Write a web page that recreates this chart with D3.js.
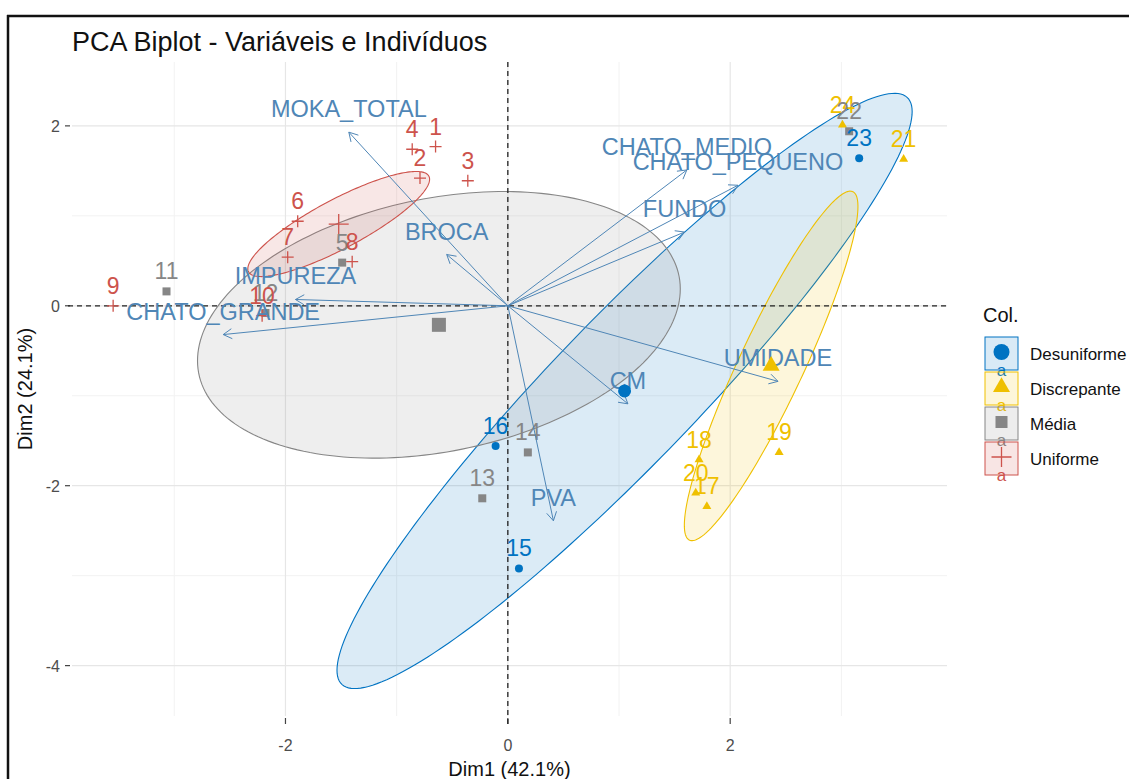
<!DOCTYPE html>
<html><head><meta charset="utf-8">
<script src="https://cdn.jsdelivr.net/npm/d3@7"></script>
<style>body{margin:0;background:#fff} text{font-family:Arial,"Liberation Sans",sans-serif}</style>
</head><body><svg id="c" width="1129" height="779"></svg>
<script>
// ---- data ----
const indLabels = ["1","2","3","4","5","6","7","8","9","10","11","12","13","14","15","16","17","18","19","20","21","22","23","24"];
const indX = [-0.65,-0.79,-0.36,-0.86,-1.49,-1.89,-1.98,-1.40,-3.55,-2.21,-3.07,-2.18,-0.23,0.18,0.10,-0.11,1.79,1.72,2.44,1.69,3.56,3.07,3.16,3.01];
const indY = [1.77,1.42,1.39,1.74,0.48,0.94,0.54,0.49,0.00,-0.11,0.16,-0.08,-2.14,-1.63,-2.92,-1.56,-2.23,-1.71,-1.63,-2.08,1.63,1.94,1.64,2.01];
const indGroup = ["Uniforme","Uniforme","Uniforme","Uniforme","Média","Uniforme","Uniforme","Uniforme","Uniforme","Uniforme","Média","Média","Média","Média","Desuniforme","Desuniforme","Discrepante","Discrepante","Discrepante","Discrepante","Discrepante","Média","Desuniforme","Discrepante"];
const groups = ["Desuniforme","Discrepante","Média","Uniforme"];
const groupColors = ["#0073C2","#EFC000","#868686","#CD534C"];
const groupShapes = ["circle","triangle","square","plus"];
const varNames = ["MOKA_TOTAL","CHATO_MEDIO","CHATO_PEQUENO","FUNDO","BROCA","IMPUREZA","CHATO_GRANDE","CM","UMIDADE","PVA"];
const varX = [-1.43,1.61,2.07,1.59,-0.55,-1.91,-2.56,1.08,2.43,0.41];
const varY = [1.93,1.51,1.34,0.82,0.57,0.07,-0.32,-1.09,-0.84,-2.39];
const xMajor = [-2,0,2], xMinor = [-3,-1,1,3];
const yMajor = [-4,-2,0,2], yMinor = [-3,-1,1];
const titleText = "PCA Biplot - Variáveis e Indivíduos";
const xTitle = "Dim1 (42.1%)", yTitle = "Dim2 (24.1%)", legendTitle = "Col.";

// ---- setup ----
const svg = d3.select("#c");
const L = 72, R = 947, T = 62, B = 716;
const x = d3.scaleLinear().domain([-3.92, 3.95]).range([L, R]);
const y = d3.scaleLinear().domain([-4.56, 2.71]).range([B, T]);
const color = d3.scaleOrdinal().domain(groups).range(groupColors);
const shape = d3.scaleOrdinal().domain(groups).range(groupShapes);
const varColor = "#4f86b6";

const inds = indLabels.map((l, i) => ({label: l, x: indX[i], y: indY[i], g: indGroup[i]}));

// frame
svg.append("line").attr("x1", 7).attr("x2", 1129).attr("y1", 16).attr("y2", 16).attr("stroke", "#111").attr("stroke-width", 2.5);
svg.append("line").attr("x1", 8).attr("x2", 8).attr("y1", 15).attr("y2", 779).attr("stroke", "#111").attr("stroke-width", 2.5);

// grid
const grid = svg.append("g");
xMinor.forEach(v => grid.append("line").attr("x1", x(v)).attr("x2", x(v)).attr("y1", T).attr("y2", B).attr("stroke", "#f2f2f2").attr("stroke-width", 1));
yMinor.forEach(v => grid.append("line").attr("y1", y(v)).attr("y2", y(v)).attr("x1", L).attr("x2", R).attr("stroke", "#f2f2f2").attr("stroke-width", 1));
xMajor.forEach(v => grid.append("line").attr("x1", x(v)).attr("x2", x(v)).attr("y1", T).attr("y2", B).attr("stroke", "#e6e6e6").attr("stroke-width", 1.2));
yMajor.forEach(v => grid.append("line").attr("y1", y(v)).attr("y2", y(v)).attr("x1", L).attr("x2", R).attr("stroke", "#e6e6e6").attr("stroke-width", 1.2));

// ticks + labels
xMajor.forEach(v => {
  svg.append("line").attr("x1", x(v)).attr("x2", x(v)).attr("y1", B + 2).attr("y2", B + 8).attr("stroke", "#444").attr("stroke-width", 1.2);
  svg.append("text").attr("x", x(v)).attr("y", 751).attr("text-anchor", "middle").attr("font-size", 16).attr("fill", "#4d4d4d").text(v);
});
yMajor.forEach(v => {
  svg.append("line").attr("x1", L - 7).attr("x2", L - 2).attr("y1", y(v)).attr("y2", y(v)).attr("stroke", "#444").attr("stroke-width", 1.2);
  svg.append("text").attr("x", L - 12).attr("y", y(v) + 6).attr("text-anchor", "end").attr("font-size", 16).attr("fill", "#4d4d4d").text(v);
});

// ellipses (95% confidence ellipses around group means)
const tq = Math.sqrt(-2 * Math.log(0.05));
function ellipse(pts) {
  const n = pts.length;
  const mx = d3.mean(pts, d => d.x), my = d3.mean(pts, d => d.y);
  let sxx = 0, syy = 0, sxy = 0;
  pts.forEach(d => { sxx += (d.x - mx) ** 2; syy += (d.y - my) ** 2; sxy += (d.x - mx) * (d.y - my); });
  sxx /= (n - 1) * n; syy /= (n - 1) * n; sxy /= (n - 1) * n;
  const tr = sxx + syy, det = sxx * syy - sxy * sxy;
  const disc = Math.sqrt(Math.max(tr * tr / 4 - det, 0));
  const l1 = tr / 2 + disc, l2 = tr / 2 - disc;
  let v1 = Math.abs(sxy) > 1e-12 ? [l1 - syy, sxy] : (sxx >= syy ? [1, 0] : [0, 1]);
  const nv = Math.hypot(v1[0], v1[1]); v1 = [v1[0] / nv, v1[1] / nv];
  const v2 = [-v1[1], v1[0]];
  const a = tq * Math.sqrt(l1), b = tq * Math.sqrt(Math.max(l2, 0));
  return d3.range(0, 200).map(k => {
    const th = 2 * Math.PI * k / 200;
    return [mx + a * Math.cos(th) * v1[0] + b * Math.sin(th) * v2[0], my + a * Math.cos(th) * v1[1] + b * Math.sin(th) * v2[1]];
  });
}
const line = d3.line().x(d => x(d[0])).y(d => y(d[1])).curve(d3.curveLinearClosed);
const eg = svg.append("g");
groups.forEach(g => {
  const pts = inds.filter(d => d.g === g);
  eg.append("path").attr("d", line(ellipse(pts))).attr("fill", color(g)).attr("fill-opacity", 0.14)
    .attr("stroke", color(g)).attr("stroke-width", 1.1);
});

// reference dashed lines
svg.append("line").attr("x1", L - 4).attr("x2", R).attr("y1", y(0)).attr("y2", y(0)).attr("stroke", "#222").attr("stroke-width", 1.3).attr("stroke-dasharray", "5,4");
svg.append("line").attr("x1", x(0)).attr("x2", x(0)).attr("y1", T).attr("y2", B + 8).attr("stroke", "#222").attr("stroke-width", 1.3).attr("stroke-dasharray", "5,4");

// symbols
function drawShape(sel, sh, cx, cy, s, col) {
  if (sh === "circle") sel.append("circle").attr("cx", cx).attr("cy", cy).attr("r", s / 2).attr("fill", col);
  else if (sh === "square") sel.append("rect").attr("x", cx - s / 2).attr("y", cy - s / 2).attr("width", s).attr("height", s).attr("fill", col);
  else if (sh === "triangle") {
    const h = s * Math.sqrt(3) / 2;
    sel.append("path").attr("d", `M${cx},${cy - h * 2 / 3}L${cx + s / 2},${cy + h / 3}L${cx - s / 2},${cy + h / 3}Z`).attr("fill", col);
  } else {
    sel.append("path").attr("d", `M${cx - s / 2},${cy}H${cx + s / 2}M${cx},${cy - s / 2}V${cy + s / 2}`).attr("stroke", col).attr("stroke-width", 1.3).attr("fill", "none");
  }
}
const indSize = {circle: 8, square: 8, triangle: 9, plus: 12};
const meanSize = {circle: 13, square: 14, triangle: 17, plus: 20};

// individuals
const ig = svg.append("g");
groups.forEach(g => {
  inds.filter(d => d.g === g).forEach(d => drawShape(ig, shape(g), x(d.x), y(d.y), indSize[shape(g)], color(g)));
});
groups.forEach(g => {
  inds.filter(d => d.g === g).forEach(d => {
    ig.append("text").attr("x", x(d.x)).attr("y", y(d.y) - 12).attr("text-anchor", "middle").attr("font-size", 23).attr("fill", color(g)).text(d.label);
  });
});

// variables
const vg = svg.append("g");
varNames.forEach((nm, i) => {
  const x0 = x(0), y0 = y(0), x1 = x(varX[i]), y1 = y(varY[i]);
  vg.append("line").attr("x1", x0).attr("y1", y0).attr("x2", x1).attr("y2", y1).attr("stroke", varColor).attr("stroke-width", 1);
  const ang = Math.atan2(y1 - y0, x1 - x0), len = 10, spread = Math.PI / 6;
  const p1 = [x1 - len * Math.cos(ang - spread), y1 - len * Math.sin(ang - spread)];
  const p2 = [x1 - len * Math.cos(ang + spread), y1 - len * Math.sin(ang + spread)];
  vg.append("path").attr("d", `M${p1[0]},${p1[1]}L${x1},${y1}L${p2[0]},${p2[1]}`).attr("stroke", varColor).attr("stroke-width", 1).attr("fill", "none");
  vg.append("text").attr("x", x1).attr("y", y1 - 15).attr("text-anchor", "middle").attr("font-size", 23.5).attr("fill", varColor).text(nm);
});

// group mean points
groups.forEach(g => {
  const pts = inds.filter(d => d.g === g);
  drawShape(svg, shape(g), x(d3.mean(pts, d => d.x)), y(d3.mean(pts, d => d.y)), meanSize[shape(g)], color(g));
});

// titles
svg.append("text").attr("x", 72).attr("y", 51).attr("font-size", 27).attr("fill", "#111").text(titleText);
svg.append("text").attr("x", (L + R) / 2).attr("y", 776).attr("text-anchor", "middle").attr("font-size", 20).attr("fill", "#111").text(xTitle);
svg.append("text").attr("transform", `translate(32,${(T + B) / 2}) rotate(-90)`).attr("text-anchor", "middle").attr("font-size", 20).attr("fill", "#111").text(yTitle);

// legend
const lg = svg.append("g");
lg.append("text").attr("x", 983).attr("y", 322).attr("font-size", 20).attr("fill", "#111").text(legendTitle);
groups.forEach((g, i) => {
  const top = 337 + i * 35, kx = 985, kw = 33, kh = 33;
  lg.append("rect").attr("x", kx).attr("y", top).attr("width", kw).attr("height", kh).attr("fill", color(g)).attr("fill-opacity", 0.15).attr("stroke", color(g)).attr("stroke-width", 1);
  drawShape(lg, shape(g), kx + kw / 2, top + 15, {circle: 16, square: 12, triangle: 17, plus: 20}[shape(g)], color(g));
  lg.append("text").attr("x", kx + kw / 2).attr("y", top + 39).attr("text-anchor", "middle").attr("font-size", 17).attr("fill", color(g)).text("a");
  lg.append("text").attr("x", 1030).attr("y", top + 23).attr("font-size", 17).attr("fill", "#111").text(g);
});
</script></body></html>
